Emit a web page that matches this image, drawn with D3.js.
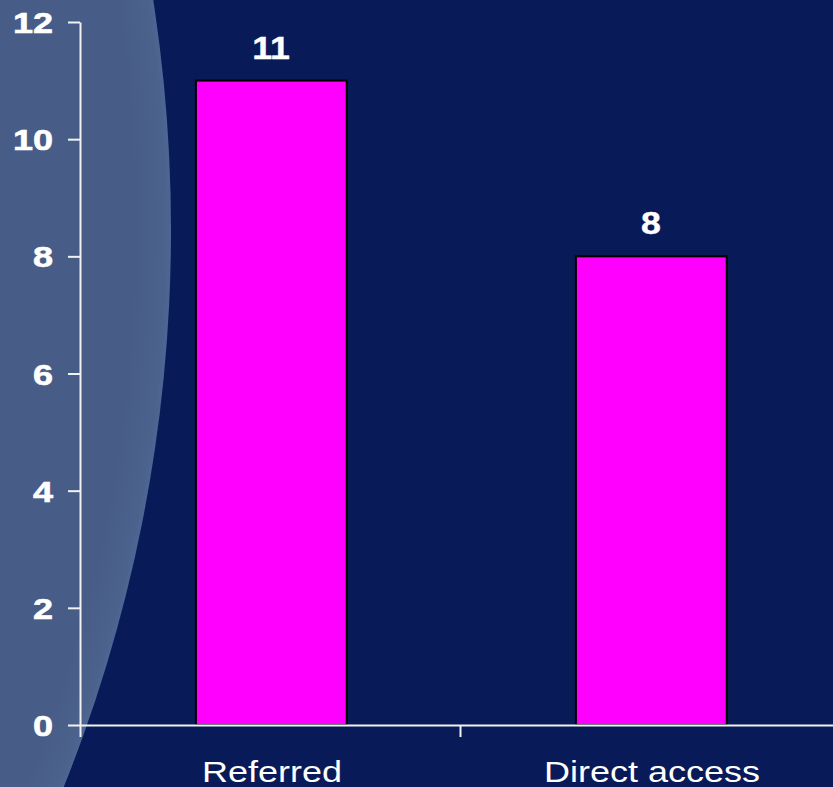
<!DOCTYPE html>
<html>
<head>
<meta charset="utf-8">
<script src="https://cdn.jsdelivr.net/npm/d3@7"></script>
<style>
  html, body { margin: 0; padding: 0; background: #0a1a58; overflow: hidden; }
  svg { display: block; }
</style>
</head>
<body>
<script>
const categories = ["Referred", "Direct access"];
const values = [11, 8];
const yTicks = [0, 2, 4, 6, 8, 10, 12];

const W = 833, H = 787;
const svg = d3.select("body").append("svg").attr("width", W).attr("height", H);

// background
svg.append("rect").attr("width", W).attr("height", H).attr("fill", "#091a58");
const defs = svg.append("defs");
const grad = defs.append("radialGradient").attr("id", "glow")
  .attr("gradientUnits", "userSpaceOnUse")
  .attr("cx", -1329).attr("cy", 230).attr("r", 1500);
grad.append("stop").attr("offset", "0.975").attr("stop-color", "#475d87");
grad.append("stop").attr("offset", "0.996").attr("stop-color", "#4b628d");
grad.append("stop").attr("offset", "1").attr("stop-color", "#4e6693");
svg.append("circle").attr("cx", -1329).attr("cy", 230).attr("r", 1500)
  .attr("fill", "url(#glow)");

const y = d3.scaleLinear().domain([0, 12]).range([725, 22]);
const x = d3.scaleBand().domain(categories).range([80, 840]).padding(0);
const xb = d3.scaleLinear().domain([0, categories.length]).range([80, 840]);

// bars
svg.append("g").selectAll("rect").data(values).join("rect")
  .attr("x", (d, i) => x(categories[i]) + x.bandwidth() * 0.305)
  .attr("width", x.bandwidth() * 0.397)
  .attr("y", d => y(d))
  .attr("height", d => y(0) - y(d))
  .attr("fill", "#ff00ff")
  .attr("stroke", "#000")
  .attr("stroke-width", 2);

// y axis
const gy = svg.append("g").attr("transform", "translate(80,0)")
  .call(d3.axisLeft(y).tickValues(yTicks).tickSize(12).tickSizeOuter(0).tickFormat(""));
gy.selectAll("path, line").attr("stroke", "#f2f2f2").attr("stroke-width", 2);

// x axis
const gx = svg.append("g").attr("transform", "translate(0,725)")
  .call(d3.axisBottom(xb).tickValues(d3.range(categories.length + 1)).tickSize(12).tickSizeOuter(0).tickFormat(""));
gx.selectAll("path, line").attr("stroke", "#f2f2f2").attr("stroke-width", 2);

// y tick labels
svg.append("g").selectAll("text").data(yTicks).join("text")
  .attr("transform", d => `translate(53,${y(d) + 11}) scale(1.2,1)`)
  .attr("text-anchor", "end")
  .attr("font-family", "Liberation Sans, Arial, sans-serif")
  .attr("font-weight", "bold")
  .attr("font-size", 30)
  .attr("fill", "#fff")
  .attr("stroke", "#fff")
  .attr("stroke-width", 0.6)
  .text(d => d);

// category labels
svg.append("g").selectAll("text").data(categories).join("text")
  .attr("transform", d => `translate(${x(d) + x.bandwidth() / 2 + 2},782) scale(1.2,1)`)
  .attr("text-anchor", "middle")
  .attr("font-family", "Liberation Sans, Arial, sans-serif")
  .attr("font-size", 30)
  .attr("fill", "#fff")
  .text(d => d);

// value labels
svg.append("g").selectAll("text").data(values).join("text")
  .attr("transform", (d, i) => `translate(${x(categories[i]) + x.bandwidth() / 2 + 1},${y(d) - 22}) scale(1.15,1)`)
  .attr("text-anchor", "middle")
  .attr("font-family", "Liberation Sans, Arial, sans-serif")
  .attr("font-weight", "bold")
  .attr("font-size", 31)
  .attr("fill", "#fff")
  .attr("stroke", "#fff")
  .attr("stroke-width", 0.4)
  .text(d => d);
</script>
</body>
</html>
